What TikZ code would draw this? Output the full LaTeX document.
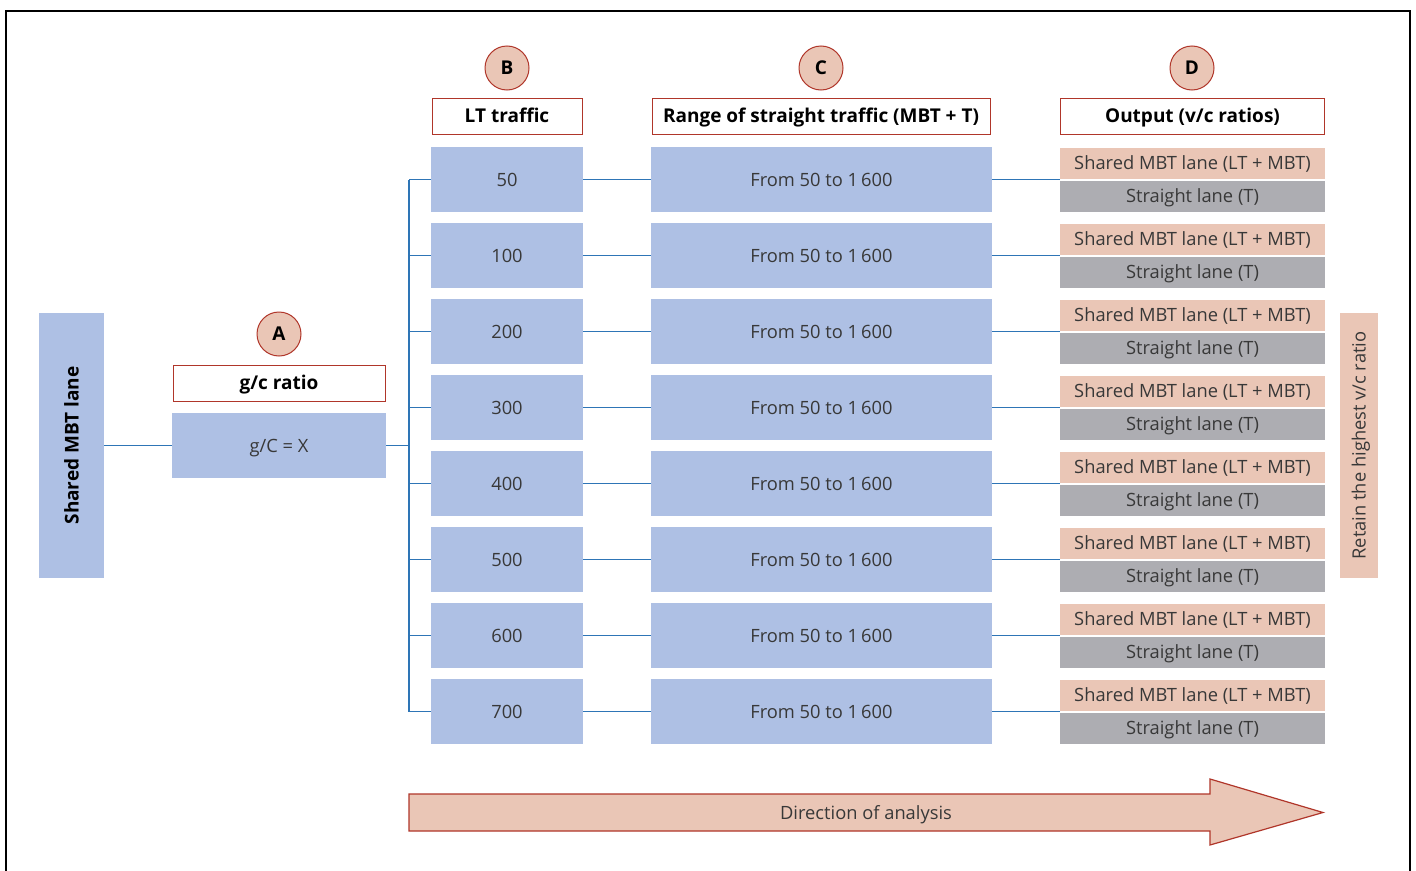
\documentclass[tikz,border=0pt]{standalone}
\usepackage{fontspec}
\setmainfont{Open Sans}
\usetikzlibrary{positioning}
\definecolor{boxblue}{HTML}{AEC0E4}
\definecolor{boxpink}{HTML}{EAC6B6}
\definecolor{boxgray}{HTML}{ADADB2}
\definecolor{darkred}{HTML}{B0362A}
\definecolor{linkblue}{HTML}{2E75B6}
\definecolor{txt}{HTML}{383838}
\newcommand{\regfont}{\fontsize{18.3}{20}\selectfont}
\newcommand{\boldfont}{\bfseries\fontsize{19}{21}\selectfont}
\tikzset{
  regtext/.style={font=\regfont, text=txt, text height=15pt, text depth=2pt},
  blubox/.style={fill=boxblue, draw=none, minimum height=65pt, inner sep=0pt, regtext},
  hdr/.style={draw=darkred, line width=1pt, fill=white, minimum height=36pt, inner sep=0pt, font=\boldfont, text=black, text height=16pt, text depth=3pt},
  letter/.style={circle, draw=darkred, line width=1pt, fill=boxpink, minimum size=44pt, inner sep=0pt, font=\boldfont, text=black},
  pinkbox/.style={fill=boxpink, minimum width=265pt, minimum height=31pt, inner sep=0pt, regtext},
  graybox/.style={fill=boxgray, minimum width=265pt, minimum height=31pt, inner sep=0pt, regtext},
  link/.style={draw=linkblue, line width=1.6pt},
}
\begin{document}
\begin{tikzpicture}[x=1pt,y=-1pt]
\useasboundingbox (0,0) rectangle (1416,870);
\fill[white] (0,0) rectangle (1416,870);
% frame
\draw[line width=1.2pt, black] (6,875) -- (6,11) -- (1410,11) -- (1410,875);

% left bar
\node[blubox, minimum width=65pt, minimum height=265pt] (lane) at (71.5,445.5) {};
\node[rotate=90, font=\boldfont, text=black] (lanetxt) at (71.5,445.5) {Shared MBT lane};

% A
\node[letter] (A) at (279,334) {A};
\node[hdr, minimum width=212pt] (hA) at (279,383) {g/c ratio};
\node[blubox, minimum width=214pt] (gc) at (279,445.5) {g/C = X};
\draw[link] (lane.east |- gc.west) -- (gc.west);
\coordinate (trunkmid) at (409,445.5);
\draw[link] (gc.east) -- (trunkmid);

% B C D headers
\node[letter] (B) at (507,68) {B};
\node[hdr, minimum width=150pt] (hB) at (507,116) {LT traffic};
\node[letter] (C) at (821,68) {C};
\node[hdr, minimum width=338pt] (hC) at (821,116) {Range of straight traffic (MBT + T)};
\node[letter] (D) at (1192,68) {D};
\node[hdr, minimum width=264pt] (hD) at (1192.5,116) {Output (v/c ratios)};

% rows
\foreach \v [count=\i from 0] in {50,100,200,300,400,500,600,700}{
  \pgfmathsetmacro{\yy}{179.5+76*\i}
  \node[blubox, minimum width=152pt] (lt\i) at (507,\yy) {\v};
  \node[blubox, minimum width=341pt] (rg\i) at (821.5,\yy) {From 50 to 1\,600};
  \node[pinkbox] (sh\i) at (1192.5,\yy-16.5) {Shared MBT lane (LT + MBT)};
  \node[graybox] (st\i) at (1192.5,\yy+16.5) {Straight lane (T)};
  \coordinate (tr\i) at (409,\yy);
  \draw[link] (tr\i) -- (lt\i.west);
  \draw[link] (lt\i.east) -- (rg\i.west);
  \draw[link] (rg\i.east) -- (1060,\yy);
}
\draw[link] (tr0) -- (tr7);

% right bar
\node[fill=boxpink, minimum width=38pt, minimum height=265pt, inner sep=0pt] (ret) at (1359,445.5) {};
\node[rotate=90, regtext] (rettxt) at (1359,445.5) {Retain the highest v/c ratio};

% arrow
\draw[draw=darkred, fill=boxpink, line width=1.2pt]
  (409,794) -- (1210,794) -- (1210,779) -- (1323,812.5) -- (1210,845) -- (1210,831) -- (409,831) -- cycle;
\node[regtext] (dir) at (866,813) {Direction of analysis};
\end{tikzpicture}
\end{document}
